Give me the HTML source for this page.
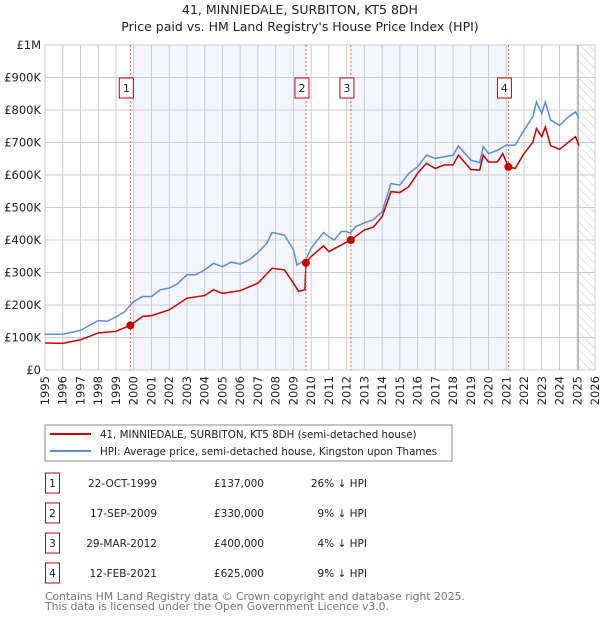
<!DOCTYPE html>
<html><head><meta charset="utf-8"><style>
body{margin:0;background:#fff;font-family:"Liberation Sans","DejaVu Sans",sans-serif;}
svg text{font-family:"DejaVu Sans","Liberation Sans",sans-serif;}
</style></head><body>
<svg id="c" width="600" height="620" xmlns="http://www.w3.org/2000/svg">
<text x="300" y="14" text-anchor="middle" font-size="12.5" fill="#222">41, MINNIEDALE, SURBITON, KT5 8DH</text>
<text x="300" y="31" text-anchor="middle" font-size="12.5" fill="#222">Price paid vs. HM Land Registry's House Price Index (HPI)</text>
<defs><pattern id="hatch" width="6" height="6" patternUnits="userSpaceOnUse" patternTransform="rotate(-45)"><line x1="0" y1="0" x2="0" y2="6" stroke="#ccc" stroke-width="1"/></pattern></defs>
<g id="grid"></g><g id="series"></g><g id="ann"></g>
<rect x="45" y="425" width="407" height="36" fill="#fff" stroke="#888"/>
<line x1="50" y1="434" x2="91" y2="434" stroke="#cc0000" stroke-width="2"/>
<text x="100" y="438" font-size="10.3" fill="#222">41, MINNIEDALE, SURBITON, KT5 8DH (semi-detached house)</text>
<line x1="50" y1="451" x2="91" y2="451" stroke="#5b8fd0" stroke-width="2"/>
<text x="100" y="455" font-size="10.3" fill="#222">HPI: Average price, semi-detached house, Kingston upon Thames</text>
<g id="tbl"></g>
<text x="45" y="600" font-size="10.8" fill="#777">Contains HM Land Registry data © Crown copyright and database right 2025.</text>
<text x="45" y="610" font-size="10.8" fill="#777">This data is licensed under the Open Government Licence v3.0.</text>
</svg>
<script>
const years=[1995,1996,1997,1998,1999,2000,2001,2002,2003,2004,2005,2006,2007,2008,2009,2010,2011,2012,2013,2014,2015,2016,2017,2018,2019,2020,2021,2022,2023,2024,2025,2026];
const yTicks=[0,100000,200000,300000,400000,500000,600000,700000,800000,900000,1000000];
const yTickLabels=["£0","£100K","£200K","£300K","£400K","£500K","£600K","£700K","£800K","£900K","£1M"];
const hpiT=[1995,1996,1997,1998,1998.5,1999,1999.5,2000,2000.5,2001,2001.5,2002,2002.5,2003,2003.5,2004,2004.5,2005,2005.5,2006,2006.5,2007,2007.5,2007.8,2008.5,2009,2009.2,2009.7,2010,2010.7,2011,2011.3,2011.7,2012,2012.2,2012.5,2013,2013.5,2014,2014.5,2015,2015.5,2016,2016.5,2017,2017.5,2018,2018.3,2019,2019.5,2019.7,2020,2020.5,2021,2021.5,2022,2022.5,2022.7,2023,2023.2,2023.5,2024,2024.5,2024.9,2025.1];
const hpiV=[110,110,122,152,150,163,180,211,226,226,247,252,267,293,293,308,328,318,332,326,339,361,390,423,415,370,323,339,375,423,410,400,426,426,421,441,453,462,487,574,569,605,625,661,651,656,661,689,646,638,687,666,676,692,692,738,779,825,789,825,769,753,779,794,774];
const ppT=[1995,1996,1997,1998,1999,1999.8,2000.5,2001,2002,2003,2004,2004.5,2005,2006,2007,2007.8,2008.5,2009,2009.3,2009.65,2009.71,2010,2010.7,2011,2011.5,2012.24,2013,2013.5,2014,2014.5,2015,2015.5,2016,2016.5,2017,2017.5,2018,2018.3,2019,2019.5,2019.7,2020,2020.5,2020.8,2021.12,2021.5,2022,2022.5,2022.7,2023,2023.2,2023.5,2024,2024.5,2024.9,2025.1];
const ppV=[83,82,93,114,119,137,165,167,185,221,229,247,236,244,267,313,308,267,242,247,330,349,382,364,379,400,431,439,472,549,546,564,605,636,620,631,631,661,617,615,661,640,640,666,625,620,666,701,743,718,748,690,679,701,718,690];
const saleT=[1999.81,2009.71,2012.24,2021.12];
const saleV=[137,330,400,625];
const saleLabels=["1","2","3","4"];
const saleDates=["22-OCT-1999","17-SEP-2009","29-MAR-2012","12-FEB-2021"];
const salePrices=["£137,000","£330,000","£400,000","£625,000"];
const saleDiffs=["26% ↓ HPI","9% ↓ HPI","4% ↓ HPI","9% ↓ HPI"];
const X0=45,X1=595,Y0=370,Y1=45;
const x=t=>X0+(t-1995)/31*(X1-X0);
const y=v=>Y0-v/1000000*(Y0-Y1);
const NS="http://www.w3.org/2000/svg";
function mk(tag,attrs,parent,txt){const e=document.createElementNS(NS,tag);for(const k in attrs)e.setAttribute(k,attrs[k]);if(txt!==undefined)e.textContent=txt;parent.appendChild(e);return e;}
const g=document.getElementById('grid');
for(let i=0;i<saleT.length;i+=2){const r=mk('rect',{x:x(saleT[i]),y:Y1,width:x(saleT[i+1])-x(saleT[i]),height:Y0-Y1,fill:'#f3f6fd'},g);

}
const hr=mk('rect',{x:x(2025.05),y:Y1,width:X1-x(2025.05),height:Y0-Y1,fill:'url(#hatch)'},g);


years.forEach(yr=>{const l=mk('line',{x1:x(yr),x2:x(yr),y1:Y1,y2:Y0,stroke:'#ccc'},g);


const t=mk('text',{x:x(yr)+4,y:Y0+6,'font-size':11.5,fill:'#222','text-anchor':'end',transform:`rotate(-90 ${x(yr)+4} ${Y0+6})`},g,String(yr));

});
yTicks.forEach((v,i)=>{const l=mk('line',{x1:X0,x2:X1,y1:y(v),y2:y(v),stroke:'#ccc'},g);


const t=mk('text',{x:X0-4,y:y(v)+4,'font-size':11.5,fill:'#222','text-anchor':'end'},g,yTickLabels[i]);

});
const el=mk('line',{x1:x(2025.05),x2:x(2025.05),y1:Y1,y2:Y0,stroke:'#999'},g);


const s=document.getElementById('series');
const hp=mk('polyline',{points:hpiT.map((t,i)=>x(t)+','+y(hpiV[i]*1000)).join(' '),fill:'none',stroke:'#5b8fd0','stroke-width':1.5},s);


const pp=mk('polyline',{points:ppT.map((t,i)=>x(t)+','+y(ppV[i]*1000)).join(' '),fill:'none',stroke:'#cc0000','stroke-width':1.5},s);


const a=document.getElementById('ann');
saleT.forEach((t,i)=>{const dl=mk('line',{x1:x(t),x2:x(t),y1:Y1,y2:Y0,stroke:'#e06060','stroke-dasharray':'2,2'},a);


const b=mk('rect',{x:x(t)-11,y:78,width:14,height:20,fill:'#fff',stroke:'#cc0000'},a);


const bt=mk('text',{x:x(t)-4,y:92,'font-size':11,fill:'#222','text-anchor':'middle'},a,saleLabels[i]);


const c=mk('circle',{cx:x(t),cy:y(saleV[i]*1000),r:4,fill:'#cc0000'},a);

});
const tb=document.getElementById('tbl');
saleLabels.forEach((lab,i)=>{const cy=483+i*30;
const r=mk('rect',{x:45.5,y:cy-10,width:14,height:20,fill:'#fff',stroke:'#cc0000'},tb);


const t0=mk('text',{x:52.5,y:cy+4,'font-size':10.5,fill:'#222','text-anchor':'middle'},tb,lab);


const t1=mk('text',{x:157,y:cy+4,'font-size':10.5,fill:'#222','text-anchor':'end'},tb,saleDates[i]);


const t2=mk('text',{x:264,y:cy+4,'font-size':10.5,fill:'#222','text-anchor':'end'},tb,salePrices[i]);


const t3=mk('text',{x:367,y:cy+4,'font-size':10.5,fill:'#222','text-anchor':'end'},tb,saleDiffs[i]);

});
</script>
</body></html>
